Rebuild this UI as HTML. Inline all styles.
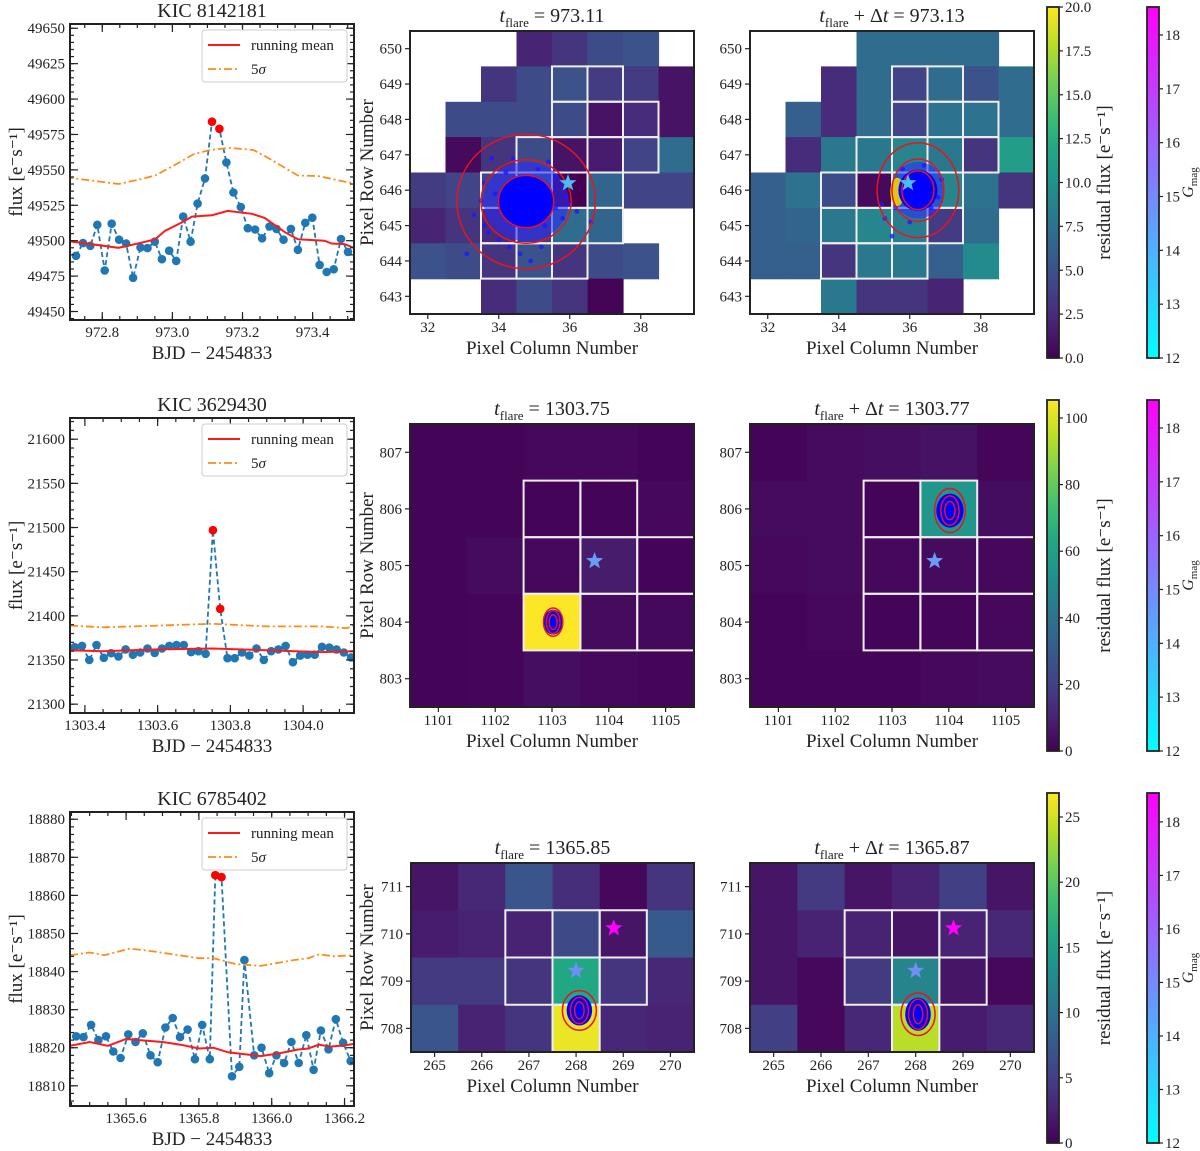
<!DOCTYPE html>
<html><head><meta charset="utf-8">
<style>
body{margin:0;background:#fff}
svg{display:block;font-family:"Liberation Serif","DejaVu Serif",serif}
</style></head>
<body>
<svg id="fig" xmlns="http://www.w3.org/2000/svg" width="1200" height="1151" viewBox="0 0 1200 1151">
<defs>
<linearGradient id="viridis" x1="0" y1="1" x2="0" y2="0">
<stop offset="0" stop-color="#440154"/><stop offset="0.1" stop-color="#482475"/><stop offset="0.2" stop-color="#414487"/><stop offset="0.3" stop-color="#355f8d"/><stop offset="0.4" stop-color="#2a788e"/><stop offset="0.5" stop-color="#21918c"/><stop offset="0.6" stop-color="#22a884"/><stop offset="0.7" stop-color="#44bf70"/><stop offset="0.8" stop-color="#7ad151"/><stop offset="0.9" stop-color="#bddf26"/><stop offset="1" stop-color="#fde725"/>
</linearGradient>
<linearGradient id="cool" x1="0" y1="1" x2="0" y2="0">
<stop offset="0" stop-color="#00ffff"/><stop offset="1" stop-color="#ff00ff"/>
</linearGradient>
</defs>
</svg>
<script>
// ---------- light-curve data ----------
const lc1Times=[972.725,972.745,972.766,972.786,972.807,972.827,972.848,972.868,972.888,972.909,972.929,972.950,972.970,972.991,973.011,973.031,973.052,973.072,973.093,973.113,973.134,973.154,973.174,973.195,973.215,973.236,973.256,973.277,973.297,973.317,973.338,973.358,973.379,973.399,973.420,973.440,973.460,973.481,973.501];
const lc1Flux=[49489.3,49498.3,49496.4,49511.2,49479,49512,49500.7,49498,49473.8,49495.2,49494.8,49499.3,49486.9,49492.9,49485.7,49517,49499.3,49526.2,49544,49584,49579,49555.2,49534,49523.8,49508.8,49507.9,49501.7,49510,49508.3,49500.7,49508.3,49493.6,49512.6,49516.2,49482.9,49477.9,49479.8,49501.2,49492.1];
const lc1Flare=[19,20];
const lc1MeanT=[972.695,972.846,972.902,972.951,972.979,973.028,973.056,973.113,973.158,973.227,973.264,973.321,973.358,973.434,973.454,973.491,973.520];
const lc1Mean=[49500,49495,49498,49501,49507,49513,49517,49518,49521,49519,49516,49506,49501,49500,49498,49497.6,49494.8];
const lc1SigT=[972.695,972.846,972.902,972.951,973.008,973.06,973.107,973.164,973.231,973.269,973.358,973.415,973.514];
const lc1Sig=[49544.8,49540,49543,49546,49553.6,49561,49564,49565.5,49564,49559,49546,49545.7,49540.5];
const lc1YTicks=[49450,49475,49500,49525,49550,49575,49600,49625,49650];
const lc1XTicks=[972.8,973.0,973.2,973.4];

const lc2Times=[1303.372,1303.392,1303.412,1303.432,1303.452,1303.472,1303.492,1303.512,1303.532,1303.552,1303.572,1303.592,1303.612,1303.632,1303.652,1303.672,1303.692,1303.712,1303.732,1303.752,1303.772,1303.792,1303.812,1303.832,1303.852,1303.872,1303.892,1303.912,1303.932,1303.952,1303.972,1303.992,1304.012,1304.032,1304.052,1304.072,1304.092,1304.112,1304.132];
const lc2Flux=[21364.5,21366,21350,21367,21352.5,21357.7,21354,21362,21356,21358.5,21363,21358,21363,21366,21367,21367,21359,21360,21357,21497,21408,21352,21352,21358.5,21355,21363,21350,21360,21362,21366,21347.5,21355,21356,21356,21365,21364,21362,21358.5,21353];
const lc2Flare=[19,20];
const lc2MeanT=[1303.359,1303.45,1303.6,1303.75,1303.9,1304.05,1304.14];
const lc2Mean=[21361,21360,21362,21363,21361,21359,21360];
const lc2SigT=[1303.359,1303.45,1303.6,1303.75,1303.9,1304.05,1304.12,1304.14];
const lc2Sig=[21389,21387,21389,21391,21388,21388,21386,21389];
const lc2YTicks=[21300,21350,21400,21450,21500,21550,21600];
const lc2XTicks=[1303.4,1303.6,1303.8,1304.0];

const lc3Times=[1365.463,1365.483,1365.504,1365.524,1365.545,1365.565,1365.585,1365.606,1365.626,1365.646,1365.667,1365.687,1365.708,1365.728,1365.748,1365.769,1365.789,1365.809,1365.830,1365.845,1365.862,1365.891,1365.911,1365.925,1365.952,1365.972,1365.993,1366.013,1366.034,1366.054,1366.074,1366.095,1366.115,1366.135,1366.156,1366.176,1366.196,1366.217];
const lc3Flux=[18823,18822.8,18826,18822,18823,18819,18817.3,18823.5,18821.5,18823.8,18818,18816.2,18825.3,18827.8,18822.8,18824.8,18817,18826,18817,18865.3,18864.8,18812.5,18815,18843,18818,18820,18813.3,18818,18816,18821.5,18816,18823.3,18814.2,18824.5,18819.6,18827.5,18821.3,18816.5];
const lc3Flare=[19,20];
const lc3MeanT=[1365.446,1365.5,1365.55,1365.6,1365.7,1365.75,1365.8,1365.84,1365.88,1365.95,1365.97,1366.02,1366.07,1366.1,1366.13,1366.16,1366.2,1366.226];
const lc3Mean=[18820.5,18821.5,18820.5,18822.3,18821.5,18820.8,18819.8,18820,18818.8,18818,18817.8,18818.5,18819.5,18819.8,18820.8,18820.3,18820.6,18821];
const lc3SigT=[1365.446,1365.5,1365.54,1365.61,1365.66,1365.73,1365.8,1365.84,1365.9,1365.97,1366.0,1366.06,1366.1,1366.13,1366.17,1366.226];
const lc3Sig=[18844.3,18845,18844.3,18846,18845.5,18844.5,18843.5,18843.5,18842,18841.5,18842,18843,18843.5,18844.5,18844,18844.3];
const lc3YTicks=[18810,18820,18830,18840,18850,18860,18870,18880];
const lc3XTicks=[1365.6,1365.8,1366.0,1366.2];

// ---------- pixel-map data (rows listed top to bottom) ----------
const map1aGrid=[[null,null,null,2,3,4.5,5,null],[null,null,3,4.5,5,3.5,3.5,1],[null,4.5,4.5,4.5,4.5,1,2.5,1],[null,0.5,3,4.5,1,1.5,4,7],[3.5,4,4,6.5,0,6.5,4,4],[2,3,2.5,3.5,7,6.5,null,null],[5,4.5,3,5,3,4.5,5,null],[null,null,2.5,4.5,3,0.2,null,null]];
const map1bGrid=[[null,null,null,7,7,7,7,null],[null,null,2.5,7,4,7,5,7],[null,6,2.5,7,4,7.5,7.5,7],[null,2.5,8,8,9,8,3,11],[6,7.5,4.5,0.5,9,9,7.5,3],[6,6.5,8,9,8.5,3.5,7,null],[6,6,3,8,8,6,9.5,null],[null,null,8,3,3,2,null,null]];
const map1Aperture=[[36,649],[37,649],[36,648],[37,648],[38,648],[35,647],[36,647],[37,647],[38,647],[34,646],[35,646],[36,646],[37,646],[34,645],[35,645],[36,645],[37,645],[34,644],[35,644],[36,644]];
const map2aGrid=[[1,1,2,2,1],[1,1,1,1,2],[1,3,2,8,1],[1,1.5,105,3,2.5],[1,1.5,4,2,1.5]];
const map2bGrid=[[1,3,4,5,1.5],[3,3,1,55,3.5],[2,3,2,3,2],[1,2,1,1.5,2],[1,1,1,2,3]];
const map2Aperture=[[1103,806],[1104,806],[1103,805],[1104,805],[1105,805],[1103,804],[1104,804],[1105,804]];
const map3aGrid=[[1.5,3,7,3.5,0.5,4],[2,2.5,2.5,6,1.5,7.5],[4.5,4.5,4,16,4,3],[7,2.5,4,26,3,2.5]];
const map3bGrid=[[1.5,4.5,1.5,2.5,5,1.5],[1.5,2.5,2.5,1.5,2.5,3],[1.5,0.5,4.5,12,1.5,0.5],[5,0.5,3,24,2,3]];
const map3Aperture=[[267,710],[268,710],[269,710],[267,709],[268,709],[269,709],[268,708]];
const cb1Ticks=[0,2.5,5,7.5,10,12.5,15,17.5,20];
const cb2Ticks=[0,20,40,60,80,100];
const cb3Ticks=[0,5,10,15,20,25];
const gmagTicks=[12,13,14,15,16,17,18];

const NS='http://www.w3.org/2000/svg';
const svg=document.getElementById('fig');
function mk(tag,attrs,parent){const e=document.createElementNS(NS,tag);for(const k in attrs)e.setAttribute(k,attrs[k]);(parent||svg).appendChild(e);return e;}
function txt(x,y,s,size,anchor,parent){const t=mk('text',{x:x,y:y,'font-size':size,'text-anchor':anchor||'middle',fill:'#222'},parent);t.textContent=s;return t;}
const VIR=['#440154','#482475','#414487','#355f8d','#2a788e','#21918c','#22a884','#44bf70','#7ad151','#bddf26','#fde725'];
function hex(h){return [parseInt(h.substr(1,2),16),parseInt(h.substr(3,2),16),parseInt(h.substr(5,2),16)];}
function viridis(f){f=Math.max(0,Math.min(1,f));const p=f*10,i=Math.min(9,Math.floor(p)),t=p-i;const a=hex(VIR[i]),b=hex(VIR[i+1]);return 'rgb('+a.map((v,k)=>Math.round(v+(b[k]-v)*t)).join(',')+')';}
function star(cx,cy,R,parent,color){let pts=[];for(let i=0;i<10;i++){const r=i%2?R*0.42:R;const a=-Math.PI/2+i*Math.PI/5;pts.push((cx+r*Math.cos(a)).toFixed(1)+','+(cy+r*Math.sin(a)).toFixed(1));}return mk('polygon',{points:pts.join(' '),fill:color},parent);}
let clipN=0;

function drawLC(c){
  const g=mk('g',{});
  
  
  const sx=v=>c.x0+(v-c.xmin)/(c.xmax-c.xmin)*(c.x1-c.x0);
  const sy=v=>c.y1-(v-c.ymin)/(c.ymax-c.ymin)*(c.y1-c.y0);
  const id='clip'+(clipN++);
  const cp=mk('clipPath',{id:id},g);mk('rect',{x:c.x0,y:c.y0,width:c.x1-c.x0,height:c.y1-c.y0},cp);
  const pg=mk('g',{'clip-path':'url(#'+id+')'},g);
  const dl=mk('polyline',{points:c.t.map((t,i)=>sx(t).toFixed(1)+','+sy(c.f[i]).toFixed(1)).join(' '),fill:'none',stroke:'#1f77b4','stroke-width':1.8,'stroke-dasharray':'5,3'},pg);
  
  
  c.t.forEach((t,i)=>{if(c.flare.indexOf(i)>=0)return;const p=mk('circle',{cx:sx(t).toFixed(1),cy:sy(c.f[i]).toFixed(1),r:4.3,fill:'#1f77b4'},pg);
    
    });
  const ml=mk('polyline',{points:c.mt.map((t,i)=>sx(t).toFixed(1)+','+sy(c.m[i]).toFixed(1)).join(' '),fill:'none',stroke:'#ff1a1a','stroke-width':2},pg);
  
  
  const sl=mk('polyline',{points:c.st.map((t,i)=>sx(t).toFixed(1)+','+sy(c.s[i]).toFixed(1)).join(' '),fill:'none',stroke:'#ff8c1a','stroke-width':1.8,'stroke-dasharray':'8,3,2,3'},pg);
  
  
  c.flare.forEach(i=>{const p=mk('circle',{cx:sx(c.t[i]).toFixed(1),cy:sy(c.f[i]).toFixed(1),r:4.3,fill:'#ff0000'},pg);
    
    });
  const tg=mk('g',{stroke:'#222','stroke-width':1.2},g);
  const xmin=[],ymin=[];
  for(let v=Math.ceil(c.xmin/c.xminor)*c.xminor;v<=c.xmax;v+=c.xminor)xmin.push(v);
  for(let v=Math.ceil(c.ymin/c.yminor)*c.yminor;v<=c.ymax;v+=c.yminor)ymin.push(v);
  xmin.forEach(v=>{const x=sx(v);mk('line',{x1:x,y1:c.y1,x2:x,y2:c.y1-4},tg);mk('line',{x1:x,y1:c.y0,x2:x,y2:c.y0+4},tg);});
  ymin.forEach(v=>{const y=sy(v);mk('line',{x1:c.x0,y1:y,x2:c.x0+4,y2:y},tg);mk('line',{x1:c.x1,y1:y,x2:c.x1-4,y2:y},tg);});
  c.xt.forEach(v=>{const x=sx(v);mk('line',{x1:x,y1:c.y1,x2:x,y2:c.y1-8},tg);mk('line',{x1:x,y1:c.y0,x2:x,y2:c.y0+8},tg);
    const l=txt(x,c.y1+17,v.toFixed(1),15,'middle',g);
    
    });
  c.yt.forEach(v=>{const y=sy(v);mk('line',{x1:c.x0,y1:y,x2:c.x0+8,y2:y},tg);mk('line',{x1:c.x1,y1:y,x2:c.x1-8,y2:y},tg);
    const l=txt(c.x0-5,y+5,String(v),15,'end',g);
    
    });
  const fr=mk('rect',{x:c.x0,y:c.y0,width:c.x1-c.x0,height:c.y1-c.y0,fill:'none',stroke:'#222','stroke-width':2},g);
  
  
  const ti=txt((c.x0+c.x1)/2,c.y0-7,c.title,20,'middle',g);
  
  
  const xl=txt((c.x0+c.x1)/2,c.y1+39,'BJD \u2212 2454833',19,'middle',g);
  
  
  const yc=(c.y0+c.y1)/2;
  const yl=txt(22,yc,'flux [e\u207Bs\u207B\u00B9]',19,'middle',g);
  yl.setAttribute('transform','rotate(-90 22 '+yc+')');
  
  
  const lg=mk('g',{},g);
  
  
  mk('rect',{x:202,y:c.y0+6,width:145,height:52,rx:3,fill:'#fff',stroke:'#ccc','stroke-width':1},lg);
  mk('line',{x1:208,y1:c.y0+21,x2:240,y2:c.y0+21,stroke:'#ff1a1a','stroke-width':2},lg);
  const e1=txt(251,c.y0+26,'running mean',15,'start',lg);
  
  
  mk('line',{x1:208,y1:c.y0+45,x2:240,y2:c.y0+45,stroke:'#ff8c1a','stroke-width':1.8,'stroke-dasharray':'8,3,2,3'},lg);
  const e2=mk('text',{x:251,y:c.y0+50,'font-size':15,fill:'#222'},lg);
  e2.innerHTML='5<tspan font-style="italic">\u03C3</tspan>';
  
  
}

function drawMap(c){
  const g=mk('g',{});
  
  
  const ny=c.grid.length,nx=c.grid[0].length;
  const cw=(c.x1-c.x0)/nx,ch=(c.y1-c.y0)/ny;
  const sx=v=>c.x0+(v-(c.col0-0.5))*cw;
  const sy=v=>c.y1-(v-(c.row0-0.5))*ch;
  const id='clip'+(clipN++);
  const cp=mk('clipPath',{id:id},g);mk('rect',{x:c.x0,y:c.y0,width:c.x1-c.x0,height:c.y1-c.y0},cp);
  const pg=mk('g',{'clip-path':'url(#'+id+')'},g);
  c.grid.forEach((row,r)=>{const rv=c.row0+ny-1-r;row.forEach((v,k)=>{if(v===null)return;
    const p=mk('rect',{x:sx(c.col0+k-0.5).toFixed(1),y:sy(rv+0.5).toFixed(1),width:(cw+0.6).toFixed(1),height:(ch+0.6).toFixed(1),fill:viridis(v/c.vmax)},pg);
    
    });});
  c.ap.forEach(a=>{const p=mk('rect',{x:sx(a[0]-0.5),y:sy(a[1]+0.5),width:cw,height:ch,fill:'none',stroke:'#eeeeee','stroke-width':2},pg);
    
    });
  const b=c.blob;
  const bg=mk('g',{},pg);
  
  
  if(b.halo)mk('ellipse',{cx:sx(b.cx),cy:sy(b.cy),rx:b.halo[0]*cw,ry:b.halo[1]*ch,fill:'#2a2aff','fill-opacity':0.55},bg);
  (b.extra||[]).forEach(p=>mk('circle',{cx:sx(p[0]),cy:sy(p[1]),r:2.4,fill:'#1a1aff','fill-opacity':0.8},bg));
  if(b.yel)mk('ellipse',{cx:sx(b.yel[0]),cy:sy(b.yel[1]),rx:b.yel[2]*cw,ry:b.yel[3]*ch,fill:'#f5d000','fill-opacity':0.9},bg);
  mk('ellipse',{cx:sx(b.cx),cy:sy(b.cy),rx:b.core[0]*cw,ry:b.core[1]*ch,fill:'#0000ff'},bg);
  b.rings.forEach(r=>{const e=mk('ellipse',{cx:sx(b.cx),cy:sy(b.cy),rx:r[0]*cw,ry:r[1]*ch,fill:'none',stroke:'#e8141e','stroke-width':1.5},pg);
    
    });
  c.stars.forEach(s=>{const st=star(sx(s[0]),sy(s[1]),9,pg,s[2]);
    
    });
  const fr=mk('rect',{x:c.x0,y:c.y0,width:c.x1-c.x0,height:c.y1-c.y0,fill:'none',stroke:'#222','stroke-width':2},g);
  
  
  c.xt.forEach(v=>{const x=sx(v);mk('line',{x1:x,y1:c.y1,x2:x,y2:c.y1+5,stroke:'#222','stroke-width':1.2},g);
    const l=txt(x,c.y1+18,String(v),15,'middle',g);
    
    });
  c.yt.forEach(v=>{const y=sy(v);mk('line',{x1:c.x0,y1:y,x2:c.x0-5,y2:y,stroke:'#222','stroke-width':1.2},g);
    const l=txt(c.x0-8,y+5,String(v),15,'end',g);
    
    });
  const xl=txt((c.x0+c.x1)/2,c.y1+40,'Pixel Column Number',19,'middle',g);
  
  
  if(c.ylabel){const yc=(c.y0+c.y1)/2;const yl=txt(373,yc,'Pixel Row Number',19,'middle',g);
    yl.setAttribute('transform','rotate(-90 373 '+yc+')');
    
    }
  const ti=mk('text',{x:(c.x0+c.x1)/2,y:c.y0-9,'font-size':20,'text-anchor':'middle',fill:'#222'},g);
  ti.innerHTML=c.after?'<tspan font-style="italic">t</tspan><tspan font-size="13" dy="5">flare</tspan><tspan dy="-5"> + \u0394</tspan><tspan font-style="italic">t</tspan><tspan> = '+c.tval+'</tspan>'
    :'<tspan font-style="italic">t</tspan><tspan font-size="13" dy="5">flare</tspan><tspan dy="-5"> = '+c.tval+'</tspan>';
  
  
}

function drawCB(x,y0,y1,vmin,vmax,ticks,fill,label,fmt,name){
  const g=mk('g',{});
  
  
  mk('rect',{x:x,y:y0,width:12,height:y1-y0,fill:fill,stroke:'#222','stroke-width':1.8},g);
  const sy=v=>y1-(v-vmin)/(vmax-vmin)*(y1-y0);
  ticks.forEach(v=>{const y=sy(v);mk('line',{x1:x+12,y1:y,x2:x+16,y2:y,stroke:'#222','stroke-width':1.2},g);
    const l=txt(x+18,y+5,fmt(v),15,'start',g);
    
    });
  const yc=(y0+y1)/2,lx=label==='g'?x+46:x+63;
  const t=mk('text',{x:lx,y:yc,'font-size':label==='g'?16:19,'text-anchor':'middle',fill:'#222',transform:'rotate(-90 '+lx+' '+yc+')'},g);
  if(label==='g')t.innerHTML='<tspan font-style="italic">G</tspan><tspan font-size="11" dy="4">mag</tspan>';
  else t.textContent='residual flux [e\u207Bs\u207B\u00B9]';
  
  
}

drawLC({name:'light-curve-kic-8142181',x0:70,x1:354,y0:24,y1:320,xmin:972.708,xmax:973.518,ymin:49444,ymax:49653,xminor:0.05,yminor:5,t:lc1Times,f:lc1Flux,flare:lc1Flare,mt:lc1MeanT,m:lc1Mean,st:lc1SigT,s:lc1Sig,xt:lc1XTicks,yt:lc1YTicks,title:'KIC 8142181'});
drawLC({name:'light-curve-kic-3629430',x0:70,x1:354,y0:418,y1:713,xmin:1303.359,xmax:1304.140,ymin:21290,ymax:21624,xminor:0.05,yminor:10,t:lc2Times,f:lc2Flux,flare:lc2Flare,mt:lc2MeanT,m:lc2Mean,st:lc2SigT,s:lc2Sig,xt:lc2XTicks,yt:lc2YTicks,title:'KIC 3629430'});
drawLC({name:'light-curve-kic-6785402',x0:70,x1:354,y0:812,y1:1106,xmin:1365.446,xmax:1366.226,ymin:18804.7,ymax:18881.9,xminor:0.05,yminor:2,t:lc3Times,f:lc3Flux,flare:lc3Flare,mt:lc3MeanT,m:lc3Mean,st:lc3SigT,s:lc3Sig,xt:lc3XTicks,yt:lc3YTicks,title:'KIC 6785402'});

const ex1=[[33.1,644.2],[33.3,645.3],[33.8,646.9],[34.4,646.9],[35.3,645.0],[35.6,645.5],[36.2,645.4],[36.6,645.1],[34.0,644.6],[35.2,644.4],[33.9,645.9],[35.6,646.4],[34.6,644.2],[33.5,645.7],[35.9,645.8],[34.2,646.5],[35.1,646.6],[34.9,644.0],[33.6,645.0],[33.7,644.8],[35.8,645.2],[34.3,644.4],[35.4,646.8],[33.6,646.2],[36.0,645.6]];
const ex1b=[[35.3,645.2],[35.5,644.7],[35.6,645.5],[36.6,645.5],[36.9,646.3],[35.8,646.6],[36.4,646.7],[35.2,645.6],[36.0,645.1],[36.8,645.8]];
drawMap({name:'pixel-map-973-11',x0:410,x1:694,y0:31,y1:314,col0:32,row0:643,grid:map1aGrid,vmax:20,ap:map1Aperture,xt:[32,34,36,38],yt:[643,644,645,646,647,648,649,650],ylabel:true,tval:'973.11',
  blob:{cx:34.77,cy:645.68,core:[0.8,0.76],halo:[1.2,1.12],rings:[[0.78,0.74],[1.27,1.18],[1.95,1.9]],extra:ex1},stars:[[35.95,646.2,'#4bbcf2']]});
drawMap({name:'pixel-map-973-13',x0:750,x1:1034,y0:31,y1:314,col0:32,row0:643,grid:map1bGrid,vmax:20,ap:map1Aperture,xt:[32,34,36,38],yt:[643,644,645,646,647,648,649,650],after:true,tval:'973.13',
  blob:{cx:36.23,cy:646.0,core:[0.55,0.58],halo:[0.75,0.8],rings:[[0.45,0.55],[0.73,0.88],[1.15,1.34]],extra:ex1b,yel:[35.65,645.95,0.2,0.4]},stars:[[35.95,646.2,'#4bbcf2']]});
drawMap({name:'pixel-map-1303-75',x0:410,x1:694,y0:424,y1:707,col0:1101,row0:803,grid:map2aGrid,vmax:105.4,ap:map2Aperture,xt:[1101,1102,1103,1104,1105],yt:[803,804,805,806,807],ylabel:true,tval:'1303.75',
  blob:{cx:1103.02,cy:804.0,core:[0.17,0.22],rings:[[0.07,0.13],[0.12,0.2],[0.17,0.25]]},stars:[[1103.75,805.08,'#6a9cf5']]});
drawMap({name:'pixel-map-1303-77',x0:750,x1:1034,y0:424,y1:707,col0:1101,row0:803,grid:map2bGrid,vmax:105.4,ap:map2Aperture,xt:[1101,1102,1103,1104,1105],yt:[803,804,805,806,807],after:true,tval:'1303.77',
  blob:{cx:1104.02,cy:805.97,core:[0.24,0.3],rings:[[0.09,0.16],[0.16,0.26],[0.27,0.39]]},stars:[[1103.75,805.08,'#6a9cf5']]});
drawMap({name:'pixel-map-1365-85',x0:411,x1:694,y0:863,y1:1052,col0:265,row0:708,grid:map3aGrid,vmax:26.8,ap:map3Aperture,xt:[265,266,267,268,269,270],yt:[708,709,710,711],ylabel:true,tval:'1365.85',
  blob:{cx:268.07,cy:708.38,core:[0.27,0.32],rings:[[0.1,0.18],[0.19,0.28],[0.36,0.42]]},stars:[[268.0,709.22,'#6f8ff5'],[268.8,710.12,'#ff00ff']]});
drawMap({name:'pixel-map-1365-87',x0:750,x1:1034,y0:863,y1:1052,col0:265,row0:708,grid:map3bGrid,vmax:26.8,ap:map3Aperture,xt:[265,266,267,268,269,270],yt:[708,709,710,711],after:true,tval:'1365.87',
  blob:{cx:268.05,cy:708.3,core:[0.27,0.35],rings:[[0.1,0.2],[0.2,0.32],[0.36,0.45]]},stars:[[268.0,709.22,'#6f8ff5'],[268.8,710.12,'#ff00ff']]});

drawCB(1047,7,358,0,20,cb1Ticks,'url(#viridis)','r',v=>v.toFixed(1),'residual-flux-colorbar-1');
drawCB(1147,7,358,12,18.52,gmagTicks,'url(#cool)','g',v=>String(v),'gmag-colorbar-1');
drawCB(1047,400,751,0,105.4,cb2Ticks,'url(#viridis)','r',v=>String(v),'residual-flux-colorbar-2');
drawCB(1147,400,751,12,18.52,gmagTicks,'url(#cool)','g',v=>String(v),'gmag-colorbar-2');
drawCB(1047,793,1143,0,26.84,cb3Ticks,'url(#viridis)','r',v=>String(v),'residual-flux-colorbar-3');
drawCB(1147,793,1143,12,18.54,gmagTicks,'url(#cool)','g',v=>String(v),'gmag-colorbar-3');
</script>
</body></html>
